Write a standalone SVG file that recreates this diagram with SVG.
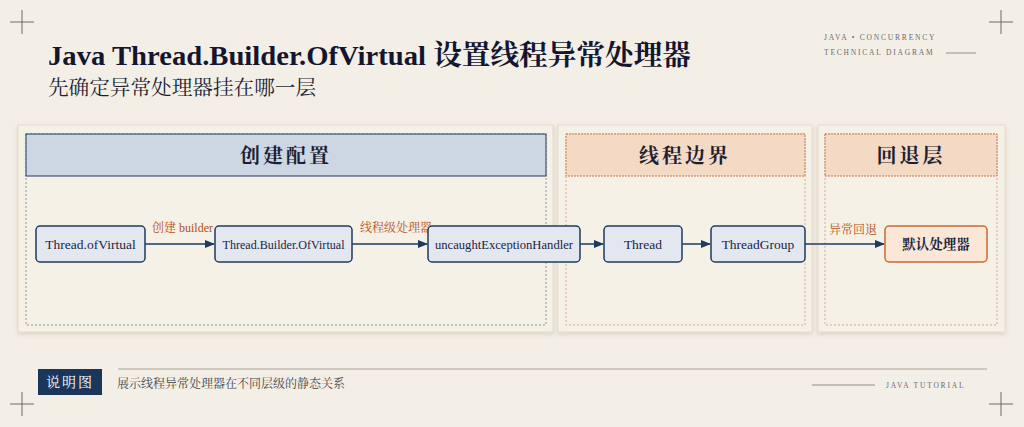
<svg xmlns="http://www.w3.org/2000/svg" width="1024" height="427" viewBox="0 0 1024 427">
<defs>
<marker id="ar" viewBox="0 0 10 10" refX="9" refY="5" markerWidth="7" markerHeight="7" orient="auto"><path d="M0,1 L10,5 L0,9 z" fill="#1f3a60"/></marker>
<filter id="sh" x="-5%" y="-5%" width="110%" height="115%"><feDropShadow dx="0" dy="2" stdDeviation="2" flood-color="#8a7a60" flood-opacity="0.25"/></filter>
</defs>
<style>
.serif{font-family:"Liberation Serif","Noto Serif CJK SC","Noto Sans CJK SC",serif}
.panel{fill:#f6f1e7;stroke:#e6dccb;stroke-width:1}
.body{fill:none;stroke:#8a94a8;stroke-width:1;stroke-dasharray:2 2}
.bodyo{fill:none;stroke:#d8a88a;stroke-width:1;stroke-dasharray:2 2}
.hb{fill:#cdd6e3;stroke:#1f3a60;stroke-width:1}
.ho{fill:#f4d9c4;stroke:#c77a4a;stroke-width:1;stroke-dasharray:2 1}
.ht{font-size:20px;font-weight:bold;fill:#1b1f33;text-anchor:middle;letter-spacing:3px}
.n{fill:#e3e8f0;stroke:#1f3a60;stroke-width:1.5}
.no{fill:#fbe7d8;stroke:#c86a30;stroke-width:1.5}
.nt{font-size:13.5px;fill:#1b2540;text-anchor:middle}
.c{stroke:#1f3a60;stroke-width:1.5;fill:none;marker-end:url(#ar)}
.lab{font-size:12px;fill:#b5501a}
.cr{stroke:#6a6a6a;stroke-width:1}
.sm{font-size:7.5px;fill:#6a6a70;letter-spacing:1.8px}
</style>
<rect width="1024" height="427" fill="#f4efe6"/>
<g class="cr"><path d="M10,22h24M22,10v24M989,22h24M1001,10v24M10,404h24M22,392v24M989,404h24M1001,392v24"/></g>
<text class="serif" x="48" y="65" font-size="28" font-weight="bold" fill="#141630" textLength="643" lengthAdjust="spacingAndGlyphs">Java Thread.Builder.OfVirtual 设置线程异常处理器</text>
<text class="serif" x="48" y="95" font-size="20" fill="#1b1f33" textLength="268" lengthAdjust="spacingAndGlyphs">先确定异常处理器挂在哪一层</text>
<text class="serif sm" x="824" y="40">JAVA  •  CONCURRENCY</text>
<text class="serif sm" x="824" y="55">TECHNICAL DIAGRAM</text>
<line x1="946" y1="53" x2="976" y2="53" stroke="#777" stroke-width="0.8"/>
<g id="panel-create">
<rect class="panel" x="18" y="125" width="535" height="207" filter="url(#sh)"/>
<rect class="body" x="26" y="134" width="520" height="191"/>
<rect class="hb" x="26" y="134" width="520" height="42"/>
<text class="serif ht" x="286" y="163">创建配置</text>
</g>
<g id="panel-thread">
<rect class="panel" x="558" y="125" width="254" height="207" filter="url(#sh)"/>
<rect class="bodyo" x="566" y="134" width="239" height="191"/>
<rect class="ho" x="566" y="134" width="239" height="42"/>
<text class="serif ht" x="685" y="163">线程边界</text>
</g>
<g id="panel-fallback">
<rect class="panel" x="818" y="125" width="187" height="207" filter="url(#sh)"/>
<rect class="bodyo" x="825" y="134" width="172" height="191"/>
<rect class="ho" x="825" y="134" width="172" height="42"/>
<text class="serif ht" x="911" y="163">回退层</text>
</g>
<g id="connectors">
<line class="c" x1="145" y1="244" x2="214" y2="244"/>
<line class="c" x1="352" y1="244" x2="427" y2="244"/>
<line class="c" x1="580" y1="244" x2="603" y2="244"/>
<line class="c" x1="682" y1="244" x2="710" y2="244"/>
<line class="c" x1="805" y1="244" x2="884" y2="244"/>
<text class="serif lab" x="152" y="232">创建 builder</text>
<text class="serif lab" x="360" y="232">线程级处理器</text>
<text class="serif lab" x="829" y="234">异常回退</text>
</g>
<g id="n1"><rect class="n" x="36" y="226" width="109" height="36" rx="4"/><text class="serif nt" x="90.5" y="249">Thread.ofVirtual</text></g>
<g id="n2"><rect class="n" x="215" y="226" width="137" height="36" rx="4"/><text class="serif nt" x="283.5" y="249" textLength="122" lengthAdjust="spacingAndGlyphs">Thread.Builder.OfVirtual</text></g>
<g id="n3"><rect class="n" x="428" y="226" width="152" height="36" rx="4"/><text class="serif nt" x="504" y="249" textLength="138" lengthAdjust="spacingAndGlyphs">uncaughtExceptionHandler</text></g>
<g id="n4"><rect class="n" x="604" y="226" width="78" height="36" rx="4"/><text class="serif nt" x="643" y="249">Thread</text></g>
<g id="n5"><rect class="n" x="711" y="226" width="94" height="36" rx="4"/><text class="serif nt" x="758" y="249">ThreadGroup</text></g>
<g id="n6"><rect class="no" x="885" y="226" width="102" height="36" rx="4"/><text class="serif nt" x="936" y="249" font-weight="bold">默认处理器</text></g>
<line x1="118" y1="369" x2="987" y2="369" stroke="#aaa39a" stroke-width="1.2"/>
<rect x="38" y="369" width="64" height="26" fill="#1c355a"/>
<text class="serif" x="70" y="387" font-size="14" fill="#fff" text-anchor="middle" letter-spacing="2">说明图</text>
<text class="serif" x="117" y="388" font-size="12" fill="#444">展示线程异常处理器在不同层级的静态关系</text>
<line x1="812" y1="385" x2="875" y2="385" stroke="#777" stroke-width="0.8"/>
<text class="serif sm" x="886" y="388">JAVA  TUTORIAL</text>
</svg>
